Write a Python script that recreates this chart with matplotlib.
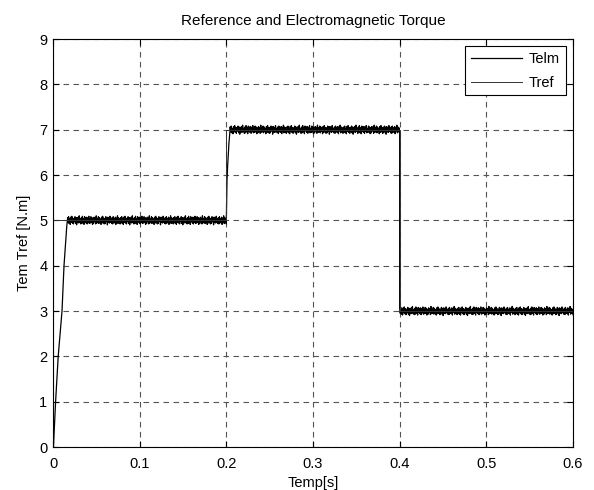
import numpy as np
import matplotlib
matplotlib.use("Agg")
import matplotlib.pyplot as plt

plt.rcParams["font.family"] = ["Liberation Sans", "DejaVu Sans"]

# reference torque: step levels
tref_t = [0.0, 0.2, 0.2, 0.4, 0.4, 0.6]
tref_v = [5.0, 5.0, 7.0, 7.0, 3.0, 3.0]

# electromagnetic torque: transients
ramp_t = [0.0, 0.0005, 0.003, 0.006, 0.0104, 0.0127, 0.0160, 0.0168]
ramp_v = [0.0, 0.0, 1.0, 2.0, 3.0, 4.0, 4.9, 5.02]
step2_t = [0.2, 0.2008, 0.2015, 0.2030, 0.2044]
step2_v = [5.0, 5.9, 6.2, 6.7, 7.02]

# ripple around each steady level (hand-read, N.m)
ripple = [0.06, -0.05, 0.08, -0.07, 0.03, -0.09, 0.07, -0.04, 0.09, -0.06,
          0.05, -0.08, 0.04, -0.03, 0.08, -0.07, 0.06, -0.10, 0.05, -0.05,
          0.07, -0.06, 0.10, -0.04, 0.03, -0.08, 0.06, -0.07, 0.09, -0.05,
          0.04, -0.09, 0.08, -0.03, 0.06, -0.06, 0.07, -0.08, 0.05, -0.04,
          0.09, -0.07, 0.03, -0.06, 0.08, -0.05, 0.06, -0.09, 0.04, -0.07,
          0.07, -0.03, 0.05, -0.08, 0.10, -0.06, 0.04, -0.05, 0.08, -0.07,
          0.06, -0.04, 0.03, -0.09, 0.07, -0.06, 0.09, -0.05, 0.05, -0.08,
          0.04, -0.07, 0.08, -0.03, 0.06, -0.10, 0.07, -0.05, 0.05, -0.06,
          0.09, -0.04, 0.03, -0.07, 0.06, -0.08, 0.08, -0.05, 0.04, -0.06,
          0.07, -0.09, 0.05, -0.03, 0.10, -0.07, 0.06, -0.05, 0.04, -0.08]

seg1 = (0.0168, 0.2, 5.0)
seg2 = (0.2044, 0.4, 7.0)
seg3 = (0.4, 0.6, 3.0)


def steady(t0, t1, level, reps=3):
    vals = np.array(ripple * reps)
    t = np.linspace(t0, t1, len(vals))
    return t, level + vals


t1, v1 = steady(*seg1)
t2, v2 = steady(*seg2)
t3, v3 = steady(*seg3)
telm_t = np.concatenate([ramp_t, t1, step2_t, t2, t3])
telm_v = np.concatenate([ramp_v, v1, step2_v, v2, v3])

fig = plt.figure(figsize=(5.94, 4.90), dpi=100)
ax = fig.add_axes([53 / 594, 43 / 490, 520 / 594, 408 / 490])

ax.plot(telm_t, telm_v, color="black", lw=0.9, label="Telm")
ax.plot(tref_t, tref_v, color="#333333", lw=0.7, label="Tref")

ax.set_xlim(0, 0.6)
ax.set_ylim(0, 9)
ax.set_xticks([0, 0.1, 0.2, 0.3, 0.4, 0.5, 0.6])
ax.set_xticklabels(["0", "0.1", "0.2", "0.3", "0.4", "0.5", "0.6"])
ax.set_yticks(range(10))
ax.grid(True, color="#555555", ls=(0, (5, 4)), lw=0.8)
ax.tick_params(direction="in", length=4, labelsize=10.5, top=True, right=True,
               labeltop=False, labelright=False)
ax.tick_params(axis="x", pad=7)
ax.tick_params(axis="y", pad=4)
for s in ax.spines.values():
    s.set_linewidth(0.8)

ax.set_xlabel("Temp[s]", fontsize=10.5, labelpad=4)
ax.set_ylabel("Tem Tref [N.m]", fontsize=10.5, labelpad=6)
ax.set_title("Reference and Electromagnetic Torque", fontsize=11, pad=10)

leg = ax.legend(loc="upper right", fontsize=10.5, frameon=True, fancybox=False,
                edgecolor="black", handlelength=3.5, handletextpad=0.45,
                borderaxespad=0.5, labelspacing=0.65, framealpha=1)
leg.get_frame().set_linewidth(0.8)

fig.savefig("out.png", dpi=100)
